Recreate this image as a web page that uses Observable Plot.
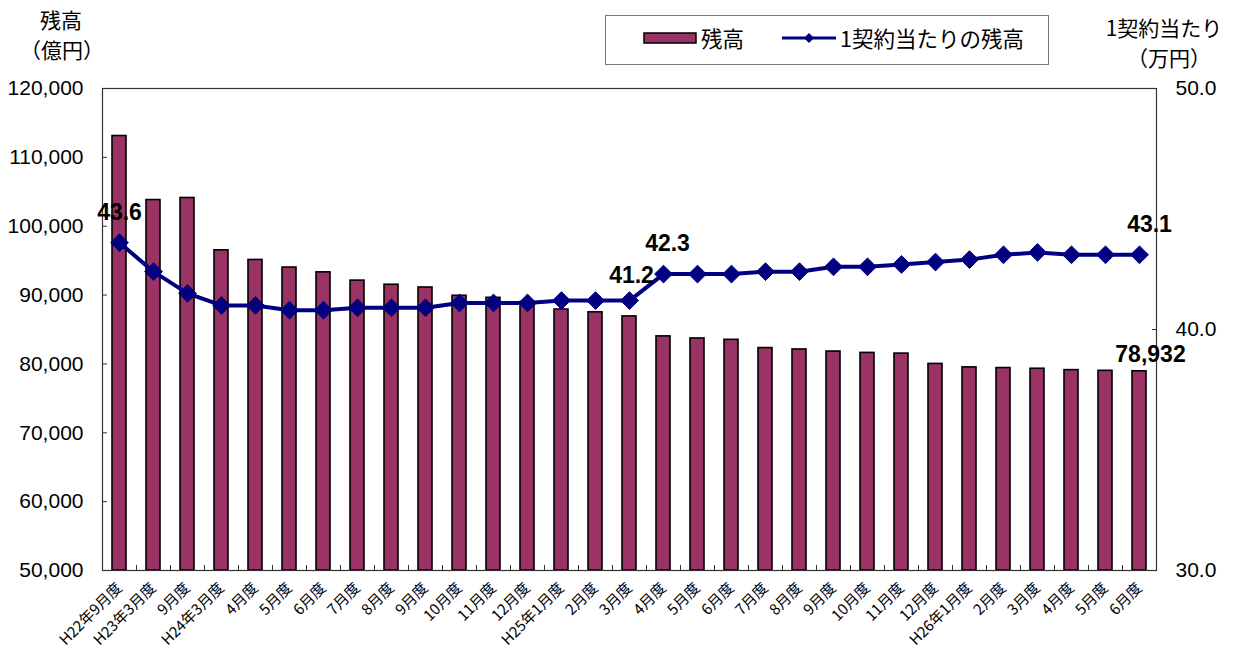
<!DOCTYPE html>
<html><head><meta charset="utf-8">
<script src="https://cdn.jsdelivr.net/npm/d3@7"></script>
<script src="https://cdn.jsdelivr.net/npm/@observablehq/plot@0.6"></script>
<style>
body{margin:0;background:#fff;}
#wrap{position:relative;width:1234px;height:649px;font-family:"Noto Sans CJK JP",sans-serif;color:#000;}
.t{position:absolute;font-size:21px;white-space:nowrap;transform:translateX(-50%);line-height:1;}
#legend{position:absolute;left:605px;top:15px;width:444px;height:50px;border:1px solid #777;box-sizing:border-box;font-size:21.5px;}
#legend .item{position:absolute;top:11px;display:flex;align-items:center;gap:4px;white-space:nowrap;line-height:1;}
</style></head><body>
<div id="wrap">
  <div class="t" style="left:61px;top:9px;">残高</div>
  <div class="t" style="left:62px;top:39px;">（億円）</div>
  <div class="t" style="left:1164px;top:17px;">1契約当たり</div>
  <div class="t" style="left:1169px;top:47px;">（万円）</div>
  <div id="legend">
    <div class="item" style="left:37px;"><svg width="54" height="14"><rect x="1" y="2" width="52" height="10" fill="#993366" stroke="#000" stroke-width="1.5"/></svg><span>残高</span></div>
    <div class="item" style="left:176px;"><svg width="54" height="14"><line x1="0" y1="7" x2="54" y2="7" stroke="#000080" stroke-width="3"/><path d="M27,2 L32,7 L27,12 L22,7Z" fill="#000080"/></svg><span>1契約当たりの残高</span></div>
  </div>
</div>
<script>
const categories = ["H22年9月度","H23年3月度","9月度","H24年3月度","4月度","5月度","6月度","7月度","8月度","9月度","10月度","11月度","12月度","H25年1月度","2月度","3月度","4月度","5月度","6月度","7月度","8月度","9月度","10月度","11月度","12月度","H26年1月度","2月度","3月度","4月度","5月度","6月度"];
const balance = [113100,103800,104100,96500,95100,94000,93300,92100,91500,91100,89900,89600,89000,87900,87500,86900,84000,83700,83500,82300,82100,81800,81600,81500,80000,79500,79400,79300,79100,79000,78932];
const perContract = [43.6,42.4,41.5,41.0,41.0,40.8,40.8,40.9,40.9,40.9,41.1,41.1,41.1,41.2,41.2,41.2,42.3,42.3,42.3,42.4,42.4,42.6,42.6,42.7,42.8,42.9,43.1,43.2,43.1,43.1,43.1];
const leftTicks = [50000,60000,70000,80000,90000,100000,110000,120000];
const rightTicks = [30,40,50];

const leftDomain = [50000,120000];
const rightDomain = [30,50];
const toLeft = v => leftDomain[0] + (v - rightDomain[0]) * (leftDomain[1]-leftDomain[0])/(rightDomain[1]-rightDomain[0]);
const fromLeft = v => rightDomain[0] + (v - leftDomain[0]) * (rightDomain[1]-rightDomain[0])/(leftDomain[1]-leftDomain[0]);

const idx = d3.range(categories.length);
const rows = idx.map(i => ({i, cat: categories[i], bal: balance[i], pc: perContract[i], pcL: toLeft(perContract[i])}));

const numFont = "'Liberation Sans', Arial, sans-serif";
const axisColor = "#333";
const labelStyle = {fontSize: 23, fontWeight: "bold", fill: "#000", fontFamily: numFont};
const lineLabel = (i, dx, dy) => Plot.text(rows.filter(d => d.i === i), {x: "i", y: "pcL", text: d => d.pc.toFixed(1), dx, dy, ...labelStyle});

const chart = Plot.plot({
  width: 1234, height: 649,
  marginLeft: 102, marginRight: 78, marginTop: 88, marginBottom: 79,
  style: {fontFamily: numFont, fontSize: "21px", background: "transparent", overflow: "visible"},
  x: {type: "band", domain: idx, paddingInner: 0.6, paddingOuter: 0.3, axis: null},
  y: {domain: leftDomain, axis: null},
  marks: [
    Plot.barY(rows, {x: "i", y1: leftDomain[0], y2: "bal", fill: "#993366", stroke: "#000", strokeWidth: 1.6}),
    Plot.frame({stroke: axisColor, strokeWidth: 1.2}),
    Plot.axisY(leftTicks, {anchor: "left", tickSize: -5, tickPadding: 24, tickFormat: d3.format(","), fontSize: 21, fontFamily: numFont, stroke: axisColor}),
    Plot.axisY(rightTicks.map(toLeft), {anchor: "right", tickSize: -5, tickPadding: 24, tickFormat: d => fromLeft(d).toFixed(1), fontSize: 21, fontFamily: numFont, stroke: axisColor}),
    Plot.axisX(idx, {anchor: "bottom", label: null, tickSize: 0, tickPadding: 15, tickRotate: -45, tickFormat: i => categories[i], fontSize: 15, fontFamily: "'Noto Sans CJK JP', sans-serif"}),
    Plot.axisX(idx.slice(0, -1), {anchor: "bottom", label: null, tickSize: -5, dx: 17, tickFormat: () => "", stroke: axisColor}),
    Plot.line(rows, {x: "i", y: "pcL", stroke: "#000080", strokeWidth: 4}),
    Plot.dot(rows, {x: "i", y: "pcL", symbol: "diamond2", r: 8, fill: "#000080", stroke: "#000080", strokeWidth: 1}),
    lineLabel(0, 0, -30),
    lineLabel(15, 2, -25),
    lineLabel(16, 4, -30),
    lineLabel(30, 10, -30),
    Plot.text(rows.filter(d => d.i === 30), {x: "i", y: "bal", text: d => d3.format(",")(d.bal), dx: 11, dy: -17, ...labelStyle})
  ]
});
chart.style.position = "absolute";
chart.style.left = "0px";
chart.style.top = "0px";
document.getElementById("wrap").prepend(chart);
</script>
</body></html>
